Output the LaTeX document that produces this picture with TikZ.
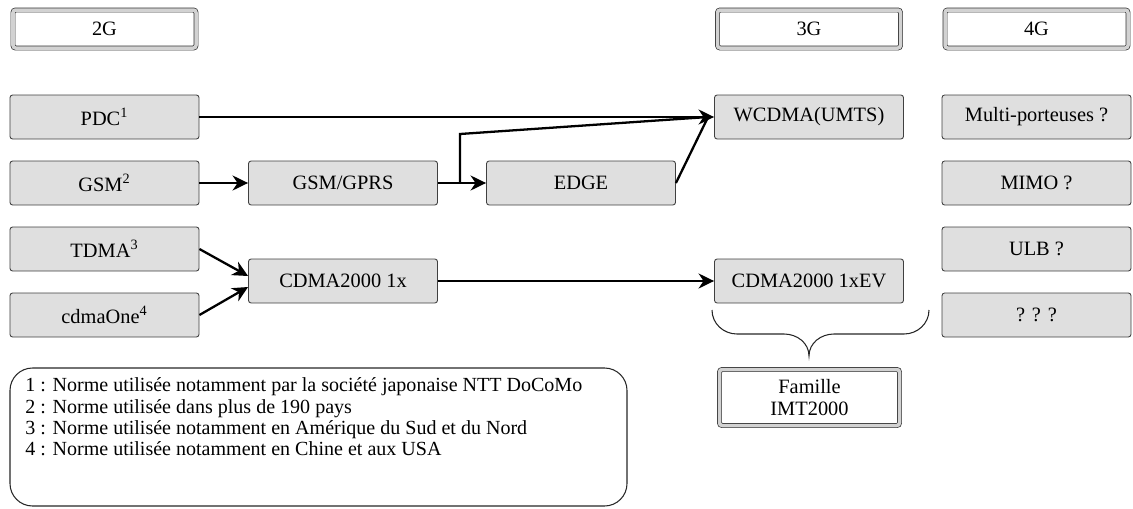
\documentclass[tikz,border=0pt]{standalone}
\usepackage{fontspec}
\setmainfont{Liberation Serif}
\usetikzlibrary{arrows.meta}
\tikzset{
  box/.style={draw=black!75, line width=0.5pt, fill=gray!25, rounded corners=1.5pt,
    minimum width=3.78cm, minimum height=0.88cm, inner sep=0pt,
    font=\fontsize{11.6}{13}\selectfont},
  titlebox/.style={box, fill=white, draw=black!80, double=gray!35,
    double distance=0.07cm, line width=0.4pt, minimum width=3.66cm, minimum height=0.76cm},
  link/.style={line width=1.3pt, -{Stealth[length=0.31cm,width=0.3cm,inset=0.1cm]}},
  plain/.style={line width=1.3pt}
}
\begin{document}
\begin{tikzpicture}
\useasboundingbox (0,0) rectangle (22.66,-10.16);
% generations
\node[titlebox] (g2) at (2.09,-0.58) {2G};
\node[titlebox] (g3) at (16.18,-0.58) {3G};
\node[titlebox] (g4) at (20.73,-0.58) {4G};
% 2G
\node[box] (pdc) at (2.09,-2.34) {PDC\textsuperscript{1}};
\node[box] (gsm) at (2.09,-3.66) {GSM\textsuperscript{2}};
\node[box] (tdma) at (2.09,-4.98) {TDMA\textsuperscript{3}};
\node[box] (cdmaone) at (2.09,-6.30) {cdmaOne\textsuperscript{4}};
\node[box] (gprs) at (6.86,-3.66) {GSM/GPRS};
\node[box] (edge) at (11.62,-3.66) {EDGE};
\node[box] (onex) at (6.86,-5.62) {CDMA2000 1x};
% 3G
\node[box] (wcdma) at (16.18,-2.34) {WCDMA(UMTS)};
\node[box] (onexev) at (16.18,-5.62) {CDMA2000 1xEV};
% 4G
\node[box] (multi) at (20.73,-2.34) {Multi-porteuses ?};
\node[box] (mimo) at (20.73,-3.66) {MIMO ?};
\node[box] (ulb) at (20.73,-4.98) {ULB ?};
\node[box] (unk) at (20.73,-6.30) {? ? ?};
\node[titlebox, minimum width=3.6cm, minimum height=1.12cm, align=center] (imt) at (16.19,-7.95) {Famille\\IMT2000};
% links
\draw[link] (pdc) -- (wcdma);
\draw[link] (gsm) -- (gprs);
\draw[link] (gprs) -- (edge);
\coordinate (split) at (9.2,-3.66);
\coordinate (bend) at (9.2,-2.68);
\draw[plain] (split) -- (bend) -- ([xshift=-0.12cm]wcdma.west);
\draw[plain] (edge.east) -- ([xshift=-0.12cm]wcdma.west);
\draw[link] (tdma.east) -- ([yshift=0.1cm]onex.west);
\draw[link] (cdmaone.east) -- ([yshift=-0.12cm]onex.west);
\draw[link] (onex) -- (onexev);
% brace
\draw[black!85, line width=0.6pt] (14.24,-6.20) to[out=-90,in=180] (14.74,-6.68) -- (15.68,-6.68)
  to[out=0,in=90] (16.18,-7.12) to[out=90,in=180] (16.68,-6.68) -- (18.08,-6.68) to[out=0,in=-90] (18.58,-6.20);
% notes
\draw[black!85, line width=0.6pt, rounded corners=0.45cm] (0.2,-7.36) rectangle (12.54,-10.12);
\node[anchor=north west, align=left, inner sep=0pt, font=\fontsize{11.4}{12.1}\selectfont] (notes) at (0.5,-7.55)
  {1 : Norme utilisée notamment par la société japonaise NTT DoCoMo\\
   2 : Norme utilisée dans plus de 190 pays\\
   3 : Norme utilisée notamment en Amérique du Sud et du Nord\\
   4 : Norme utilisée notamment en Chine et aux USA};
\end{tikzpicture}
\end{document}
